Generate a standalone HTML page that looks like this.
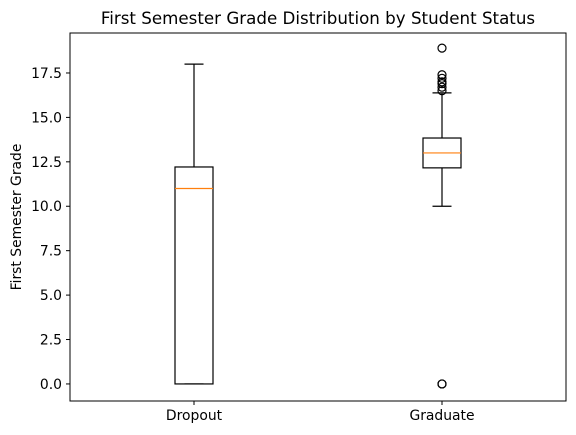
<!DOCTYPE html>
<html><head><meta charset="utf-8"><style>
body{margin:0;background:#fff;}
svg{display:block;font-family:"DejaVu Sans","Liberation Sans",sans-serif;}
</style></head><body>
<svg id="chart" width="576" height="435"></svg>
<script>
const categories = ["Dropout","Graduate"];
const q1s = [0.0, 12.16];
const medians = [11.0, 13.0];
const q3s = [12.21, 13.84];
const whiskerLows = [0.0, 10.0];
const whiskerHighs = [18.0, 16.38];
const outliers = [[], [18.9, 17.4, 17.2, 17.0, 16.9, 16.7, 16.5, 0.0, 0.0]];
const yTicks = [0, 2.5, 5, 7.5, 10, 12.5, 15, 17.5];

const L=70,R=566,T=33,B=401, yMin=-0.96, yMax=19.75;
const ns="http://www.w3.org/2000/svg", svg=document.getElementById('chart');
const xS=i=>L+(i+0.5)*(R-L)/2;
const yS=v=>B-(v-yMin)/(yMax-yMin)*(B-T);
function mk(tag,attrs,parent){const e=document.createElementNS(ns,tag);for(const k in attrs)e.setAttribute(k,attrs[k]);(parent||svg).appendChild(e);return e;}

const title=mk('text',{x:(L+R)/2,y:24,'text-anchor':'middle','font-size':16.7,fill:'#000'});
title.textContent="First Semester Grade Distribution by Student Status";



const yl=mk('text',{x:0,y:0,transform:`translate(21,${(T+B)/2}) rotate(-90)`,'text-anchor':'middle','font-size':13.9});
yl.textContent="First Semester Grade";



yTicks.forEach(t=>{const y=yS(t);
  mk('line',{x1:L-4,x2:L,y1:y,y2:y,stroke:'#000','stroke-width':1});
  const tx=mk('text',{x:L-8,y:y+5,'text-anchor':'end','font-size':13.9});tx.textContent=t.toFixed(1);
  
  
});

categories.forEach((c,i)=>{
  const x=xS(i), hw=19, cw=9.5;
  const g=mk('g',{});
  
  
  const st={stroke:'#000','stroke-width':1.2,fill:'none'};
  mk('line',{x1:x,x2:x,y1:yS(q3s[i]),y2:yS(whiskerHighs[i]),...st},g);
  mk('line',{x1:x,x2:x,y1:yS(q1s[i]),y2:yS(whiskerLows[i]),...st},g);
  mk('line',{x1:x-cw,x2:x+cw,y1:yS(whiskerHighs[i]),y2:yS(whiskerHighs[i]),...st},g);
  mk('line',{x1:x-cw,x2:x+cw,y1:yS(whiskerLows[i]),y2:yS(whiskerLows[i]),...st},g);
  mk('rect',{x:x-hw,y:yS(q3s[i]),width:2*hw,height:yS(q1s[i])-yS(q3s[i]),...st},g);
  mk('line',{x1:x-hw,x2:x+hw,y1:yS(medians[i]),y2:yS(medians[i]),stroke:'#ff7f0e','stroke-width':1.2},g);
  outliers[i].forEach(v=>{const o=mk('circle',{cx:x,cy:yS(v),r:4,fill:'none',stroke:'#000','stroke-width':1.2},g);
    
    });
  mk('line',{x1:x,x2:x,y1:B,y2:B+4,stroke:'#000'});
  const tx=mk('text',{x:x,y:B+19,'text-anchor':'middle','font-size':13.9});tx.textContent=c;
  
  
});

const fr=mk('rect',{x:L,y:T,width:R-L,height:B-T,fill:'none',stroke:'#000','stroke-width':1});


</script>
</body></html>
